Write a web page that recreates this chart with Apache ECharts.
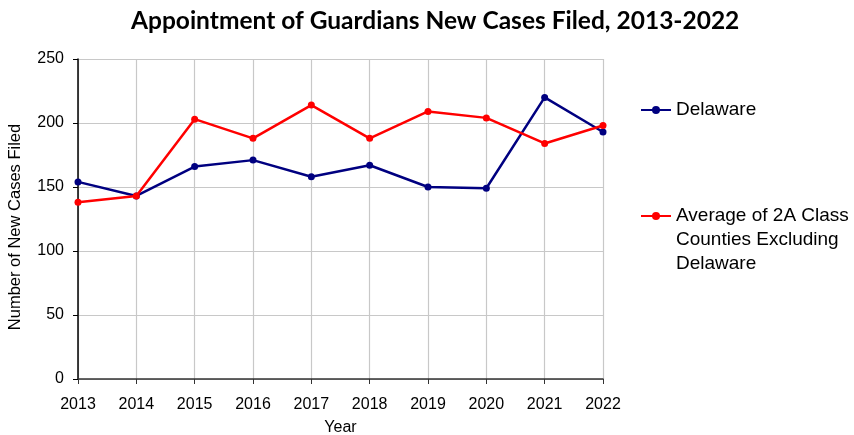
<!DOCTYPE html>
<html>
<head>
<meta charset="utf-8">
<script src="https://cdn.jsdelivr.net/npm/echarts@6/dist/echarts.min.js"></script>
<style>
  html, body { margin: 0; padding: 0; background: #fff; }
  #chart { width: 854px; height: 435px; }
</style>
</head>
<body>
<div id="chart"></div>
<script>
// Appointment of Guardians new case filings per year
const years = ['2013', '2014', '2015', '2016', '2017', '2018', '2019', '2020', '2021', '2022'];
const delaware = [154, 143, 166, 171, 158, 167, 150, 149, 220, 193];
const class2aAverage = [138, 143, 203, 188, 214, 188, 209, 204, 184, 198];
const yTicks = { min: 0, max: 250, step: 50 };

const seriesNames = ['Delaware', 'Average of 2A Class Counties Excluding Delaware'];
const textFont = '"Liberation Sans", Arial, sans-serif';

const chart = echarts.init(document.getElementById('chart'), null, { renderer: 'canvas' });

chart.setOption({
  animation: false,
  title: {
    text: 'Appointment of Guardians New Cases Filed, 2013-2022',
    left: 126,
    top: 4,
    textStyle: { fontFamily: 'Lato, sans-serif', fontWeight: 'bold', fontSize: 24.5, color: '#000' }
  },
  legend: [
    {
      data: [seriesNames[0]],
      left: 635,
      top: 93,
      itemWidth: 30,
      itemHeight: 10,
      textStyle: { fontFamily: textFont, fontSize: 19, color: '#000', lineHeight: 24 }
    },
    {
      data: [seriesNames[1]],
      left: 635,
      top: 151,
      itemWidth: 30,
      itemHeight: 10,
      // two leading blank lines keep the marker level with the first text line
      formatter: () => '\n\nAverage of 2A Class\nCounties Excluding\nDelaware',
      textStyle: { fontFamily: textFont, fontSize: 19, color: '#000', lineHeight: 24 }
    }
  ],
  grid: { left: 78, right: 251, top: 59, bottom: 56, containLabel: false, outerBoundsMode: 'none' },
  xAxis: {
    type: 'category',
    data: years,
    boundaryGap: false,
    name: 'Year',
    nameLocation: 'middle',
    nameGap: 41,
    nameTextStyle: { fontFamily: textFont, fontSize: 16, color: '#000' },
    axisLine: { lineStyle: { color: '#333', width: 1.5 } },
    axisTick: { show: true, length: 5, lineStyle: { color: '#333' } },
    axisLabel: { fontFamily: textFont, fontSize: 16, color: '#000', margin: 18 },
    splitLine: { show: true, lineStyle: { color: '#c8c8c8', width: 1.2 } }
  },
  yAxis: {
    type: 'value',
    min: yTicks.min,
    max: yTicks.max,
    interval: yTicks.step,
    name: 'Number of New Cases Filed',
    nameLocation: 'middle',
    nameGap: 54,
    nameTextStyle: { fontFamily: textFont, fontSize: 16.5, color: '#000', padding: [0, 16, 0, 0] },
    axisLine: { show: true, lineStyle: { color: '#000', width: 1.5 } },
    axisTick: { show: true, length: 5, lineStyle: { color: '#000' } },
    axisLabel: { fontFamily: textFont, fontSize: 16, color: '#000', margin: 14 },
    splitLine: { show: true, lineStyle: { color: '#c8c8c8', width: 1.2 } }
  },
  series: [
    {
      name: seriesNames[0],
      type: 'line',
      data: delaware,
      symbol: 'circle',
      symbolSize: 7,
      color: '#000080',
      lineStyle: { width: 2.5, color: '#000080' },
      itemStyle: { color: '#000080' },
      z: 3
    },
    {
      name: seriesNames[1],
      type: 'line',
      data: class2aAverage,
      symbol: 'circle',
      symbolSize: 7,
      color: '#ff0000',
      lineStyle: { width: 2.5, color: '#ff0000' },
      itemStyle: { color: '#ff0000' },
      z: 4
    }
  ]
});
</script>
</body>
</html>
